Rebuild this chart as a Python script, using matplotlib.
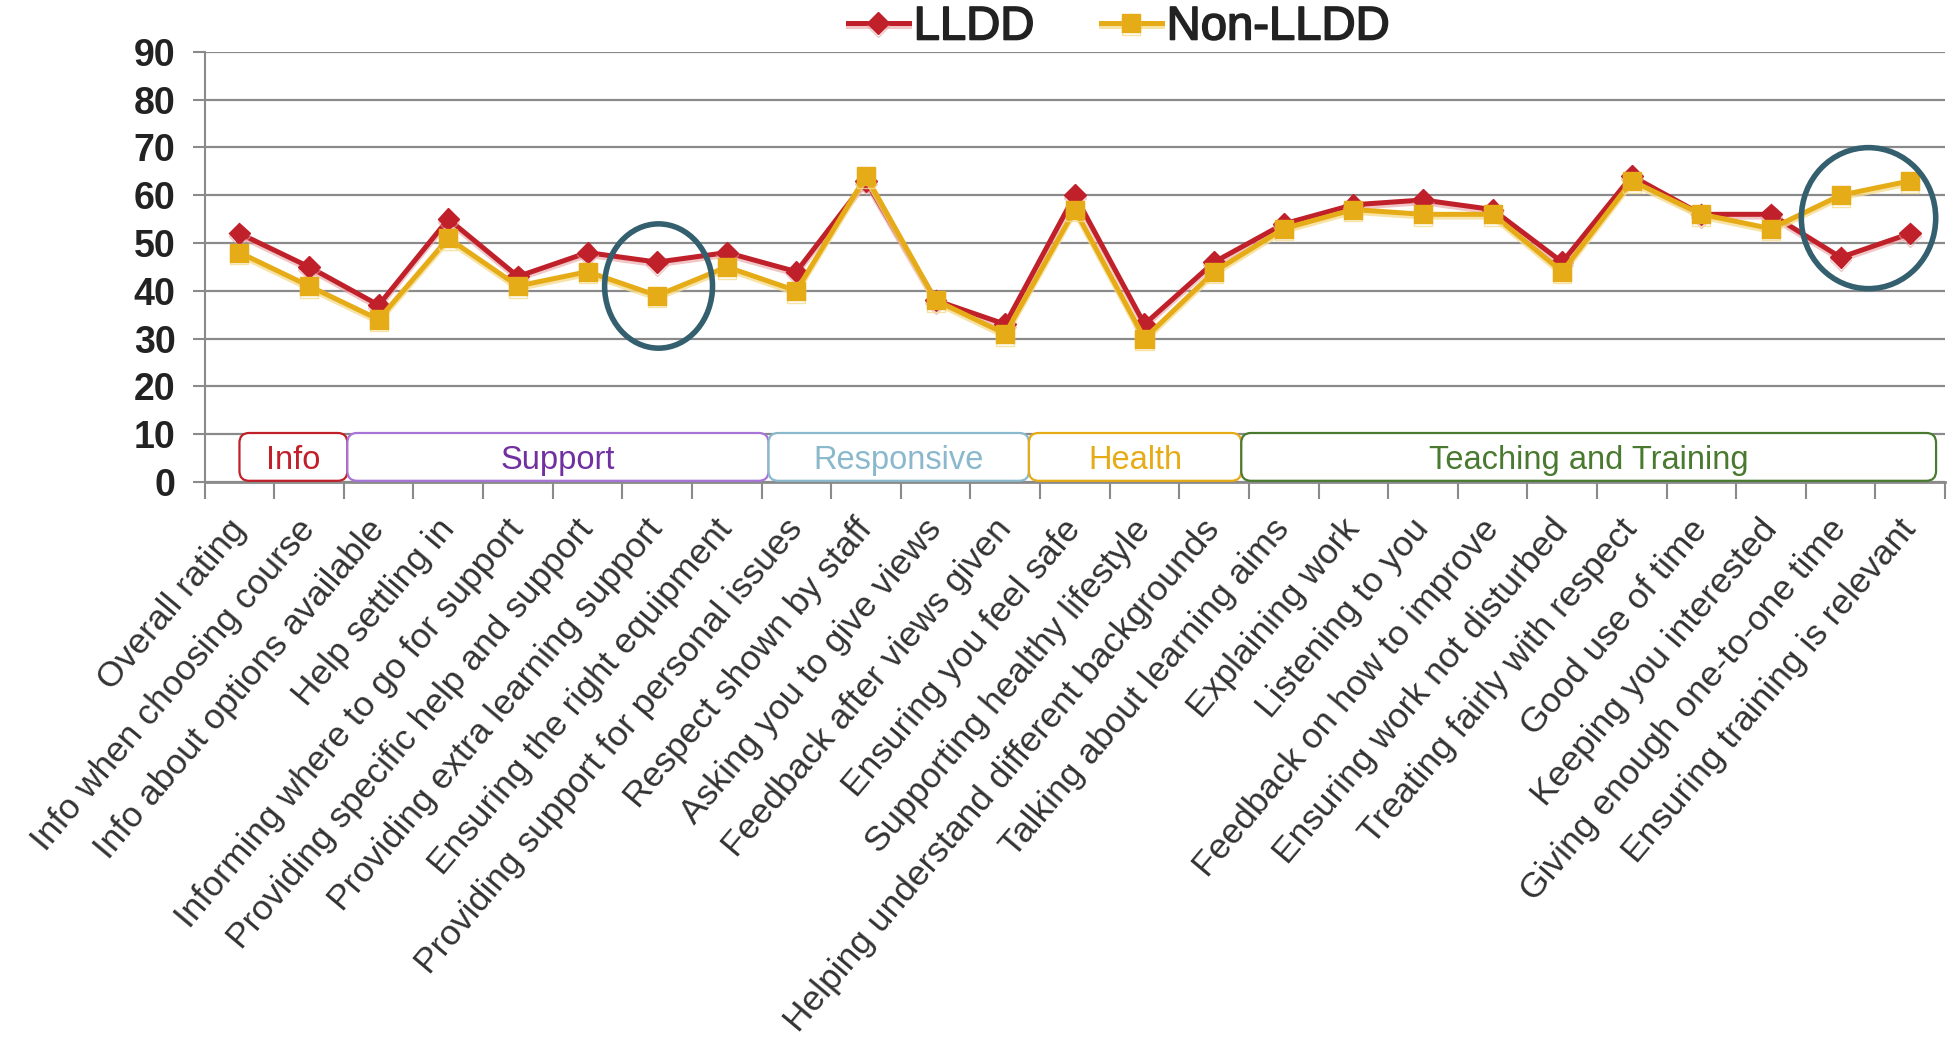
"""Learner survey ratings: LLDD vs Non-LLDD line chart"""
import matplotlib
matplotlib.use("Agg")
import matplotlib.pyplot as plt
import matplotlib.patheffects as pe
from matplotlib.patches import FancyBboxPatch, Ellipse

plt.rcParams['font.family'] = ['Liberation Sans', 'DejaVu Sans']

questions = [
    "Overall rating", "Info when choosing course", "Info about options available",
    "Help settling in", "Informing where to go for support",
    "Providing specific help and support", "Providing extra learning support",
    "Ensuring the right equipment", "Providing support for personal issues",
    "Respect shown by staff", "Asking you to give views", "Feedback after views given",
    "Ensuring you feel safe", "Supporting healthy lifestyle",
    "Helping understand different backgrounds", "Talking about learning aims",
    "Explaining work", "Listening to you", "Feedback on how to improve",
    "Ensuring work not disturbed", "Treating fairly with respect", "Good use of time",
    "Keeping you interested", "Giving enough one-to-one time",
    "Ensuring training is relevant",
]
lldd = [52, 45, 37, 55, 43, 48, 46, 48, 44, 63, 38, 33, 60, 33, 46,
        54, 58, 59, 57, 46, 64, 56, 56, 47, 52]
non_lldd = [48, 41, 34, 51, 41, 44, 39, 45, 40, 64, 38, 31, 57, 30, 44,
            53, 57, 56, 56, 44, 63, 56, 53, 60, 63]

# groups drawn as boxes along the bottom of the plot
groups = ["Info", "Support", "Responsive", "Health", "Teaching and Training"]
group_start = [0.0, 1.55, 7.6, 11.34, 14.39]
group_end = [1.55, 7.6, 11.34, 14.39, 24.37]
group_text = ["#c0202a", "#7030a0", "#8ab8cc", "#e6ac17", "#4a7a30"]
group_edge = ["#c0202a", "#a874d8", "#8ab8cc", "#e6ac17", "#4a7a30"]

# highlighted spots (centre x, centre value, width, height)
circles = [(6.02, 41.0, 1.55, 26.0), (23.4, 55.2, 1.93, 29.5)]

red = "#c0202a"
gold = "#e6ac17"
grey = "#8a8a8a"

fig = plt.figure(figsize=(19.49, 10.57), dpi=100)
ax = fig.add_axes([0.105, 0.544, 0.893, 0.407])

x = list(range(len(questions)))
shadow_r = [pe.SimpleLineShadow(offset=(0, -2), shadow_color="#e8a0a0", alpha=0.6), pe.Normal()]
shadow_g = [pe.SimpleLineShadow(offset=(0, -2), shadow_color="#f5dc90", alpha=0.8), pe.Normal()]
ax.plot(x, lldd, color=red, lw=3.6, marker="D", markersize=11, label="LLDD",
        zorder=4, path_effects=shadow_r)
ax.plot(x, non_lldd, color=gold, lw=3.6, marker="s", markersize=13, label="Non-LLDD",
        zorder=5, path_effects=shadow_g)

ax.set_xlim(-0.5, len(questions) - 0.5)
ax.set_ylim(0, 90)
ax.set_yticks(range(0, 91, 10))
ax.yaxis.grid(True, color=grey, lw=1.6)
ax.set_axisbelow(True)
for side in ["top", "right"]:
    ax.spines[side].set_visible(False)
ax.spines["left"].set_color(grey)
ax.spines["left"].set_linewidth(1.5)
ax.spines["bottom"].set_color(grey)
ax.spines["bottom"].set_linewidth(2)

ax.tick_params(axis="y", length=9, width=1.5, color=grey, pad=12,
               labelsize=27, labelcolor="#222222")
for lab in ax.get_yticklabels():
    lab.set_fontweight("bold")

ax.set_xticks(x)
ax.set_xticks([i - 0.5 for i in range(len(questions) + 1)], minor=True)
ax.tick_params(axis="x", which="major", length=0, pad=30)
ax.tick_params(axis="x", which="minor", length=12, width=1.5, color=grey)
ax.set_xticklabels(questions, rotation=50, ha="right", va="center",
                   rotation_mode="anchor", fontsize=25.5, color="#333333")

for name, x0, x1, tc, ec in zip(groups, group_start, group_end, group_text, group_edge):
    box = FancyBboxPatch((x0, 0.25), x1 - x0, 10.0,
                         boxstyle="round,pad=0,rounding_size=0.14",
                         mutation_aspect=14.6, fc="white", ec=ec, lw=1.6,
                         zorder=3, clip_on=False)
    ax.add_patch(box)
    ax.text((x0 + x1) / 2, 4.6, name, ha="center", va="center",
            fontsize=23.5, color=tc, zorder=6)

for cx, cy, w, h in circles:
    ax.add_patch(Ellipse((cx, cy), w, h, fill=False, ec="#345f6e", lw=4,
                         zorder=6, clip_on=False))

leg = fig.legend(loc="center", bbox_to_anchor=(0.574, 0.974), ncol=2, frameon=False,
                 fontsize=34, handlelength=1.3, handletextpad=0.1, columnspacing=1.4)
for t in leg.get_texts():
    t.set_color("#222222")
    t.set_path_effects([pe.withStroke(linewidth=1.2, foreground="#222222")])

fig.savefig("out.png", dpi=100)
